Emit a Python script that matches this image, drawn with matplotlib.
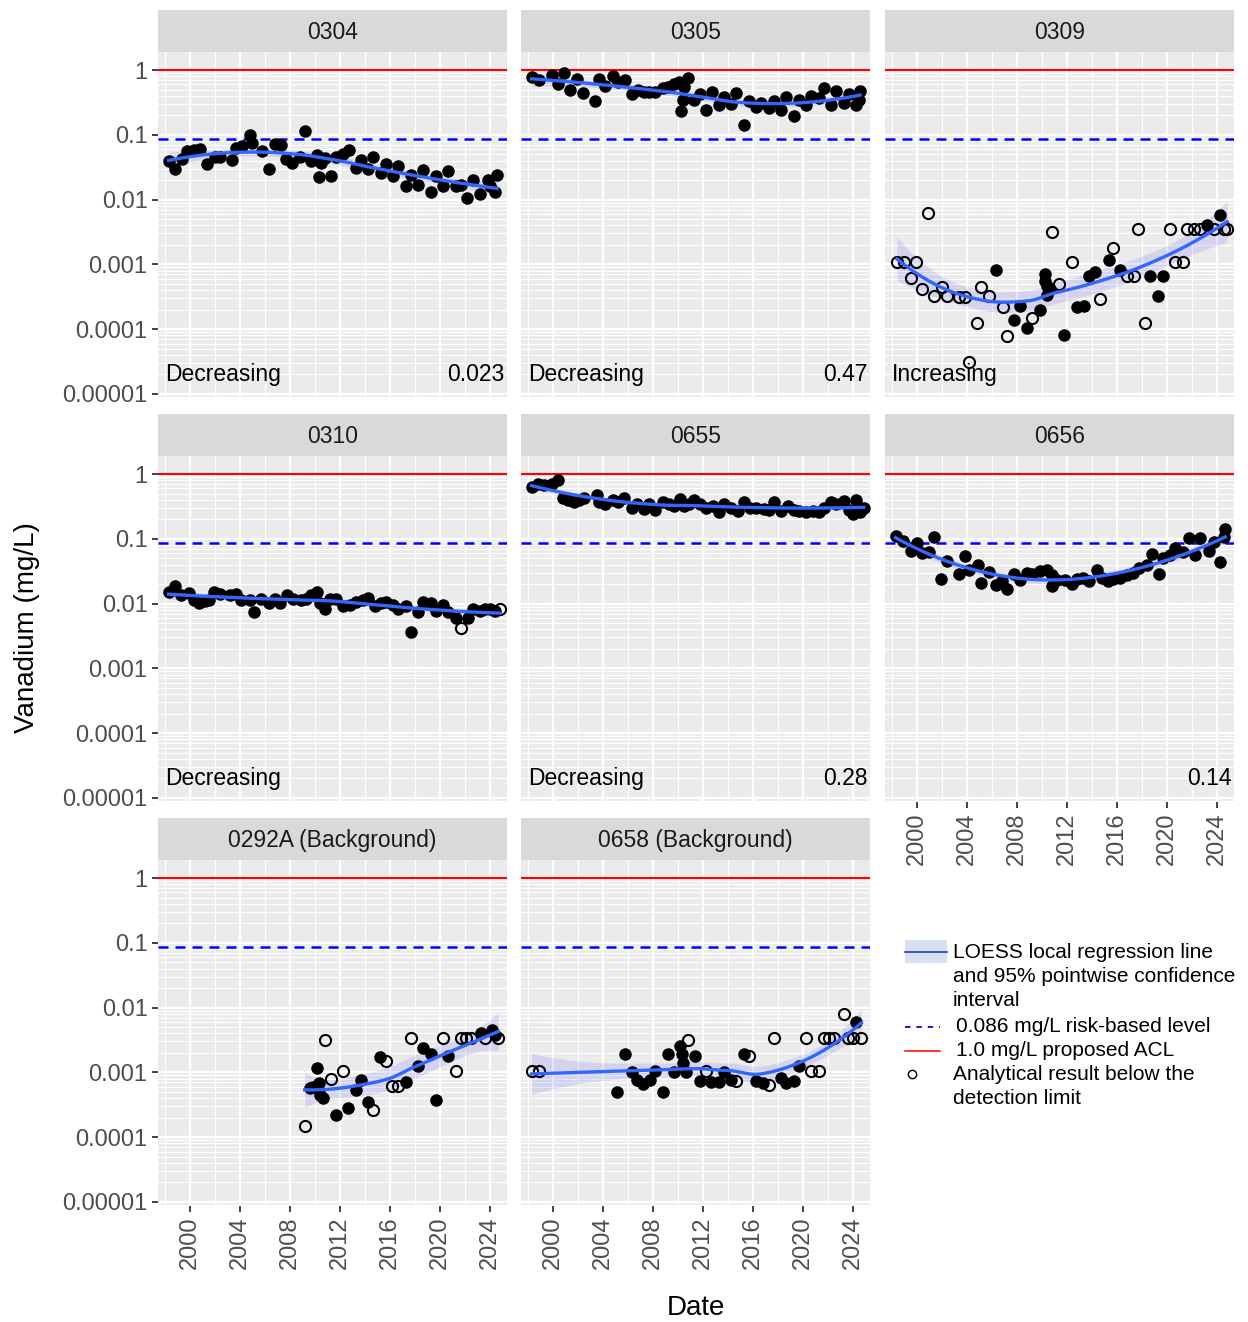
import numpy as np
import matplotlib
matplotlib.use('Agg')
import matplotlib.pyplot as plt
from matplotlib.ticker import LogLocator, MultipleLocator, FixedLocator, NullFormatter
from matplotlib.lines import Line2D
from matplotlib.patches import Rectangle

plt.rcParams['font.family'] = ['Liberation Sans', 'DejaVu Sans']

''' DATA (decimal year, mg/L) read off the figure
'''
yr_0304 = [1998.3, 1998.85, 1999.4, 1999.8, 2000.3, 2000.8, 2001.4, 2002.0, 2002.45, 2003.4,
           2003.7, 2004.2, 2004.8, 2005.0, 2005.8, 2006.3, 2006.8, 2007.3, 2007.7, 2008.2,
           2008.8, 2009.2, 2009.7, 2010.2, 2010.35, 2010.5, 2010.8, 2011.3, 2011.7, 2012.3,
           2012.75, 2013.3, 2013.7, 2014.3, 2014.7, 2015.3, 2015.7, 2016.3, 2016.7, 2017.3,
           2017.7, 2018.3, 2018.7, 2019.3, 2019.7, 2020.3, 2020.7, 2021.3, 2021.7, 2022.2,
           2022.7, 2023.25, 2023.9, 2024.05, 2024.45, 2024.6]
v_0304 = [0.039, 0.030, 0.042, 0.057, 0.059, 0.061, 0.035, 0.046, 0.045, 0.041,
          0.062, 0.068, 0.100, 0.075, 0.057, 0.030, 0.072, 0.070, 0.043, 0.037,
          0.045, 0.115, 0.039, 0.049, 0.022, 0.037, 0.044, 0.023, 0.046, 0.050,
          0.059, 0.031, 0.041, 0.030, 0.046, 0.026, 0.036, 0.023, 0.033, 0.016,
          0.024, 0.017, 0.029, 0.013, 0.023, 0.016, 0.028, 0.016, 0.017, 0.0104,
          0.020, 0.0123, 0.020, 0.016, 0.013, 0.024]

yr_0305 = [1998.3, 1998.9, 1999.9, 2000.4, 2000.9, 2001.4, 2001.9, 2002.45, 2003.4, 2003.7,
           2004.2, 2004.85, 2005.2, 2005.8, 2006.3, 2006.8, 2007.3, 2007.7, 2008.2, 2008.8,
           2009.2, 2009.7, 2010.1, 2010.3, 2010.4, 2010.5, 2010.8, 2011.3, 2011.8, 2012.3,
           2012.75, 2013.3, 2013.7, 2014.3, 2014.7, 2015.3, 2015.7, 2016.3, 2016.7, 2017.3,
           2017.7, 2018.3, 2018.7, 2019.3, 2019.7, 2020.3, 2020.7, 2021.3, 2021.7, 2022.3,
           2022.7, 2023.3, 2023.7, 2024.3, 2024.5, 2024.6]
v_0305 = [0.79, 0.71, 0.84, 0.61, 0.89, 0.50, 0.72, 0.44, 0.33, 0.72,
          0.57, 0.81, 0.66, 0.70, 0.42, 0.49, 0.45, 0.46, 0.45, 0.52,
          0.55, 0.61, 0.65, 0.23, 0.34, 0.55, 0.74, 0.35, 0.42, 0.24,
          0.45, 0.29, 0.39, 0.30, 0.44, 0.142, 0.33, 0.27, 0.31, 0.26,
          0.33, 0.24, 0.39, 0.195, 0.35, 0.29, 0.40, 0.37, 0.53, 0.29,
          0.48, 0.31, 0.42, 0.29, 0.35, 0.48]

yr_0309_det = [2006.3, 2007.8, 2008.3, 2008.8, 2009.85, 2010.25, 2010.3, 2010.4, 2010.7, 2010.4,
               2011.8, 2012.8, 2013.4, 2013.8, 2014.3, 2015.35, 2016.3, 2018.7, 2019.3, 2019.7,
               2023.25, 2024.3]
v_0309_det = [0.00083, 0.000139, 0.00023, 0.000106, 0.00020, 0.00072, 0.00055, 0.00046, 0.00041, 0.00034,
              0.000081, 0.00022, 0.00023, 0.00066, 0.00076, 0.00117, 0.00081, 0.00066, 0.00032, 0.00066,
              0.0041, 0.0057]
yr_0309_nd = [1998.4, 1999.0, 1999.9, 1999.5, 2000.45, 2000.9, 2001.4, 2002.0, 2002.4, 2003.4,
              2003.85, 2004.85, 2004.2, 2005.1, 2005.8, 2006.9, 2007.25, 2009.25, 2010.8, 2011.4,
              2012.4, 2014.7, 2015.7, 2016.8, 2017.4, 2017.7, 2018.3, 2020.3, 2020.7, 2021.35,
              2021.65, 2022.2, 2022.7, 2023.8, 2024.6, 2024.85]
v_0309_nd = [0.00107, 0.00107, 0.00107, 0.00062, 0.00042, 0.0062, 0.00032, 0.00044, 0.00032, 0.00031,
             0.00031, 0.000126, 0.000031, 0.00044, 0.00032, 0.00022, 0.000078, 0.00015, 0.0032, 0.00050,
             0.00107, 0.00029, 0.00177, 0.00066, 0.00066, 0.0035, 0.000126, 0.0035, 0.00107, 0.00107,
             0.0035, 0.0035, 0.0035, 0.0035, 0.0035, 0.0035]

yr_0310_det = [1998.3, 1998.85, 1999.3, 1999.9, 2000.3, 2000.7, 2001.2, 2001.5, 2001.9, 2002.4,
               2003.2, 2003.7, 2004.1, 2004.8, 2005.1, 2005.7, 2006.3, 2006.8, 2007.2, 2007.8,
               2008.3, 2008.9, 2009.3, 2009.7, 2010.2, 2010.4, 2010.8, 2011.2, 2011.7, 2012.3,
               2012.8, 2013.3, 2013.9, 2014.3, 2014.8, 2015.3, 2015.7, 2016.3, 2016.7, 2017.3,
               2017.7, 2018.3, 2018.7, 2019.3, 2019.7, 2020.3, 2020.7, 2021.3, 2022.3, 2022.7,
               2023.2, 2023.6, 2024.0, 2024.4]
v_0310_det = [0.015, 0.0185, 0.0135, 0.0145, 0.0115, 0.0103, 0.0109, 0.0115, 0.015, 0.014,
              0.0135, 0.014, 0.0115, 0.0115, 0.0074, 0.0118, 0.0103, 0.0118, 0.0103, 0.0134,
              0.0118, 0.0115, 0.0118, 0.0134, 0.0150, 0.0103, 0.0083, 0.0118, 0.0118, 0.0092,
              0.0095, 0.0105, 0.0114, 0.0121, 0.0092, 0.0102, 0.0106, 0.0095, 0.0083, 0.0092,
              0.0037, 0.0074, 0.0106, 0.0101, 0.0078, 0.0094, 0.0073, 0.0060, 0.0061, 0.0083,
              0.0078, 0.0083, 0.0083, 0.0078]
yr_0310_nd = [2021.7, 2024.8]
v_0310_nd = [0.0042, 0.0083]

yr_0655 = [1998.3, 1998.8, 1999.3, 1999.9, 2000.4, 2000.8, 2001.2, 2001.7, 2002.1, 2002.5,
           2003.5, 2003.7, 2004.2, 2004.8, 2005.2, 2005.7, 2006.3, 2006.7, 2007.3, 2007.7,
           2008.2, 2008.8, 2009.3, 2009.7, 2010.2, 2010.5, 2010.9, 2011.3, 2011.8, 2012.3,
           2012.8, 2013.3, 2013.7, 2014.3, 2014.8, 2015.3, 2015.8, 2016.3, 2016.9, 2017.3,
           2017.7, 2018.3, 2018.8, 2019.3, 2019.7, 2020.3, 2020.8, 2021.3, 2021.7, 2022.3,
           2022.7, 2023.3, 2023.7, 2024.3, 2024.0, 2024.6, 2024.9]
v_0655 = [0.62, 0.69, 0.68, 0.69, 0.81, 0.42, 0.40, 0.37, 0.40, 0.42,
          0.47, 0.37, 0.34, 0.40, 0.37, 0.42, 0.30, 0.34, 0.29, 0.34,
          0.28, 0.37, 0.34, 0.32, 0.41, 0.32, 0.34, 0.40, 0.34, 0.30,
          0.32, 0.26, 0.34, 0.30, 0.27, 0.37, 0.30, 0.30, 0.29, 0.28,
          0.37, 0.27, 0.32, 0.28, 0.27, 0.26, 0.27, 0.26, 0.30, 0.37,
          0.34, 0.38, 0.28, 0.40, 0.24, 0.26, 0.30]

yr_0656 = [1998.3, 1998.9, 1999.5, 2000.0, 2000.45, 2001.0, 2001.4, 2001.9, 2002.45, 2003.4,
           2003.85, 2004.2, 2004.9, 2005.1, 2005.8, 2006.3, 2006.85, 2007.25, 2007.8, 2008.3,
           2008.8, 2009.25, 2009.9, 2010.4, 2010.8, 2010.85, 2011.25, 2011.85, 2012.4, 2012.85,
           2013.3, 2013.8, 2014.4, 2014.85, 2015.3, 2015.7, 2016.3, 2016.8, 2017.35, 2017.8,
           2018.4, 2018.8, 2019.4, 2019.75, 2020.3, 2020.7, 2021.35, 2021.8, 2022.3, 2022.7,
           2023.4, 2023.8, 2024.3, 2024.6, 2024.7]
v_0656 = [0.112, 0.093, 0.064, 0.086, 0.060, 0.062, 0.105, 0.024, 0.046, 0.029,
          0.054, 0.033, 0.040, 0.021, 0.031, 0.0195, 0.022, 0.017, 0.029, 0.023,
          0.030, 0.029, 0.032, 0.033, 0.028, 0.019, 0.023, 0.023, 0.020, 0.024,
          0.025, 0.022, 0.033, 0.025, 0.022, 0.024, 0.025, 0.028, 0.030, 0.035,
          0.040, 0.059, 0.029, 0.050, 0.057, 0.072, 0.062, 0.102, 0.056, 0.104,
          0.064, 0.089, 0.044, 0.108, 0.142]

yr_0292A_det = [2009.6, 2009.9, 2010.2, 2010.35, 2010.4, 2010.67, 2011.7, 2012.7, 2013.3, 2013.7,
                2014.3, 2015.25, 2017.3, 2018.3, 2018.7, 2019.3, 2019.7, 2020.7, 2023.3, 2024.2,
                2024.4]
v_0292A_det = [0.00058, 0.00060, 0.00115, 0.00068, 0.00044, 0.00040, 0.00022, 0.00028, 0.00053, 0.00076,
               0.00035, 0.00173, 0.00071, 0.00126, 0.0024, 0.00194, 0.00037, 0.00178, 0.0041, 0.0045,
               0.0038]
yr_0292A_nd = [2009.2, 2010.8, 2011.3, 2012.3, 2014.7, 2015.7, 2016.2, 2016.7, 2017.7, 2020.3,
               2021.3, 2021.7, 2022.1, 2022.5, 2023.6, 2024.7]
v_0292A_nd = [0.000148, 0.0032, 0.00078, 0.00105, 0.00026, 0.00149, 0.00062, 0.00062, 0.0034, 0.0034,
              0.00105, 0.0034, 0.0034, 0.0034, 0.0034, 0.0034]

yr_0658_det = [2005.1, 2005.75, 2006.3, 2006.75, 2007.2, 2007.8, 2008.2, 2008.8, 2009.2, 2009.7,
               2010.2, 2010.35, 2010.4, 2010.7, 2011.4, 2011.8, 2012.7, 2013.3, 2013.7, 2014.3,
               2015.3, 2016.3, 2016.8, 2018.3, 2018.7, 2019.3, 2019.7, 2024.3]
v_0658_det = [0.00050, 0.0019, 0.00103, 0.00076, 0.00067, 0.00076, 0.00105, 0.00050, 0.0019, 0.00103,
              0.0026, 0.0019, 0.0014, 0.0010, 0.0018, 0.00074, 0.00070, 0.00071, 0.00103, 0.00076,
              0.0019, 0.00074, 0.00068, 0.00083, 0.00068, 0.00074, 0.00126, 0.0059]
yr_0658_nd = [1998.3, 1998.9, 2010.8, 2012.3, 2014.7, 2015.7, 2017.3, 2017.7, 2020.3, 2020.7,
              2021.3, 2021.7, 2022.1, 2022.5, 2023.3, 2023.6, 2024.0, 2024.7]
v_0658_nd = [0.00105, 0.00105, 0.0032, 0.00105, 0.00074, 0.0018, 0.00064, 0.0034, 0.0034, 0.00105,
             0.00105, 0.0034, 0.0034, 0.0034, 0.0081, 0.0034, 0.0034, 0.0034]

wells = ['0304', '0305', '0309', '0310', '0655', '0656', '0292A (Background)', '0658 (Background)']
det_x = [yr_0304, yr_0305, yr_0309_det, yr_0310_det, yr_0655, yr_0656, yr_0292A_det, yr_0658_det]
det_v = [v_0304, v_0305, v_0309_det, v_0310_det, v_0655, v_0656, v_0292A_det, v_0658_det]
nd_x = [[], [], yr_0309_nd, yr_0310_nd, [], [], yr_0292A_nd, yr_0658_nd]
nd_v = [[], [], v_0309_nd, v_0310_nd, [], [], v_0292A_nd, v_0658_nd]
trend = ['Decreasing', 'Decreasing', 'Increasing', 'Decreasing', 'Decreasing', '', '', '']
slope_txt = ['0.023', '0.47', '', '', '0.28', '0.14', '', '']

risk_level = 0.086
acl = 1.0
year_ticks = [2000, 2004, 2008, 2012, 2016, 2020, 2024]
ytick_vals = [1, 0.1, 0.01, 0.001, 0.0001, 0.00001]
ytick_lbl = ['1', '0.1', '0.01', '0.001', '0.0001', '0.00001']


def loess(x, y, xs, span=0.9, cell=0.2):
    '''local quadratic regression (tricube weights), kd-vertex + hermite
    interpolation like R loess(surface="interpolate"); returns fit and se'''
    x = np.asarray(x, float)
    y = np.asarray(y, float)
    n = len(x)
    q = int(np.floor(n * span))

    def lrows(x0):
        d = np.abs(x - x0)
        h = np.sort(d)[q - 1] * 1.0001
        w = np.clip(1 - (d / h) ** 3, 0, None) ** 3
        X = np.column_stack([np.ones(n), x - x0, (x - x0) ** 2])
        XtW = X.T * w
        A = np.linalg.pinv(XtW @ X)
        return A @ XtW          # rows: value, slope, curvature

    # vertices by recursive median split
    fc = int(np.floor(n * span * cell))
    lo, hi = x.min(), x.max()
    m = 0.005 * (hi - lo)
    verts = [lo - m, hi + m]

    def split(pts):
        if len(pts) <= fc:
            return
        s = np.sort(pts)
        k = len(s) // 2
        v = 0.5 * (s[k - 1] + s[k])
        if v <= s[0] or v >= s[-1]:
            return
        verts.append(v)
        split(s[s <= v])
        split(s[s > v])

    split(x)
    verts = np.sort(np.array(verts))
    vv = np.array([lrows(v)[0] @ y for v in verts])
    vd = np.array([lrows(v)[1] @ y for v in verts])

    fit = np.empty(len(xs))
    for j, x0 in enumerate(xs):
        k = min(max(np.searchsorted(verts, x0) - 1, 0), len(verts) - 2)
        x1, x2 = verts[k], verts[k + 1]
        hh = x2 - x1
        t = (x0 - x1) / hh
        h00 = 2 * t ** 3 - 3 * t ** 2 + 1
        h10 = t ** 3 - 2 * t ** 2 + t
        h01 = -2 * t ** 3 + 3 * t ** 2
        h11 = t ** 3 - t ** 2
        fit[j] = h00 * vv[k] + h10 * hh * vd[k] + h01 * vv[k + 1] + h11 * hh * vd[k + 1]

    L = np.array([lrows(x0)[0] for x0 in x])
    res = y - L @ y
    sig2 = np.sum(res ** 2) / max(n - np.trace(L), 1)
    rows = np.array([lrows(x0)[0] for x0 in xs])
    se = np.sqrt(sig2 * np.sum(rows ** 2, axis=1))
    return fit, se


''' FIGURE LAYOUT
'''
W, H = 1248, 1322
fig = plt.figure(figsize=(W / 100, H / 100), dpi=100)


def frac(x0, y0, w, h):
    return [x0 / W, 1 - (y0 + h) / H, w / W, h / H]


col_x = [158, 521, 885]
row_top = [10, 414, 818]
pw, strip_h, ph = 349, 42, 346
xlim = (1997.45, 2025.4)
ylim = (10 ** -5.062, 10 ** 0.278)
xlab_panels = [5, 6, 7]
tick_col = '#4D4D4D'

for i, name in enumerate(wells):
    r, c = divmod(i, 3)
    sax = fig.add_axes(frac(col_x[c], row_top[r], pw, strip_h))
    sax.set_facecolor('#D9D9D9')
    sax.set_xticks([])
    sax.set_yticks([])
    for s in sax.spines.values():
        s.set_visible(False)
    sax.text(0.5, 0.47, name, ha='center', va='center', fontsize=16.5, color='#1A1A1A',
             transform=sax.transAxes)

    ax = fig.add_axes(frac(col_x[c], row_top[r] + strip_h, pw, ph))
    ax.set_facecolor('#EBEBEB')
    ax.set_yscale('log')
    ax.set_xlim(xlim)
    ax.set_ylim(ylim)
    for s in ax.spines.values():
        s.set_visible(False)

    ax.xaxis.set_major_locator(FixedLocator(year_ticks))
    ax.xaxis.set_minor_locator(MultipleLocator(2))
    ax.yaxis.set_major_locator(FixedLocator(ytick_vals))
    ax.yaxis.set_minor_locator(LogLocator(base=10, subs=np.arange(2, 10), numticks=20))
    ax.yaxis.set_minor_formatter(NullFormatter())
    ax.grid(which='major', color='white', lw=1.6)
    ax.grid(which='minor', color='white', lw=0.8)
    ax.set_axisbelow(True)
    ax.tick_params(which='minor', length=0)
    ax.tick_params(which='major', color='#333333', length=4.5, width=1.3,
                   labelsize=17, labelcolor=tick_col, pad=3)

    if c == 0:
        ax.set_yticklabels(ytick_lbl)
    else:
        ax.tick_params(axis='y', which='major', length=0, labelleft=False)
    if i in xlab_panels:
        ax.set_xticklabels([str(t) for t in year_ticks], rotation=90)
    else:
        ax.tick_params(axis='x', which='major', length=0, labelbottom=False)

    # reference levels
    ax.axhline(acl, color='#FF0000', lw=1.5, zorder=2)
    ax.axhline(risk_level, color='#0000FF', lw=1.8, dashes=(4, 2.8), zorder=2)

    # loess on log scale, all results
    xa = np.array(det_x[i] + nd_x[i])
    ya = np.log10(np.array(det_v[i] + nd_v[i]))
    xs = np.linspace(xa.min(), xa.max(), 80)
    fit, se = loess(xa, ya, xs)
    ax.fill_between(xs, 10 ** (fit - 1.96 * se), 10 ** (fit + 1.96 * se),
                    color='#0000FF', alpha=0.1, lw=0, zorder=3)

    ax.plot(det_x[i], det_v[i], 'o', color='black', ms=8, zorder=4)
    if nd_x[i]:
        ax.plot(nd_x[i], nd_v[i], 'o', mfc='none', mec='black', mew=1.5, ms=8, zorder=4)
    ax.plot(xs, 10 ** fit, color='#3366FF', lw=2.4, zorder=5)

    if trend[i]:
        ax.text(0.02, 0.068, trend[i], transform=ax.transAxes, ha='left', va='center',
                fontsize=16.5, color='black', zorder=6)
    if slope_txt[i]:
        ax.text(0.993, 0.068, slope_txt[i], transform=ax.transAxes, ha='right', va='center',
                fontsize=16.5, color='black', zorder=6)

fig.text(27 / W, 1 - 628 / H, 'Vanadium (mg/L)', rotation=90, ha='center', va='center',
         fontsize=20, color='black')
fig.text(696 / W, 1 - 1308 / H, 'Date', ha='center', va='center', fontsize=20, color='black')

''' LEGEND (drawn in pixel coordinates)
'''
lax = fig.add_axes([0, 0, 1, 1], facecolor='none')
lax.set_xlim(0, W)
lax.set_ylim(H, 0)
lax.axis('off')
lax.add_patch(Rectangle((905, 940), 42, 23, facecolor='#D6E0F0', edgecolor='none'))
lax.add_line(Line2D([905, 947], [952, 952], color='#2B45C8', lw=1.3))
lax.text(953, 943, 'LOESS local regression line\nand 95% pointwise confidence\ninterval',
         ha='left', va='top', fontsize=15, linespacing=1.33, color='black')
lax.add_line(Line2D([905, 940], [1027, 1027], color='#0000FF', lw=1.3, dashes=(3, 3.3)))
lax.text(956, 1026, '0.086 mg/L risk-based level', ha='left', va='center', fontsize=15)
lax.add_line(Line2D([905, 940], [1051, 1051], color='#FF0000', lw=1.1))
lax.text(956, 1050, '1.0 mg/L proposed ACL', ha='left', va='center', fontsize=15)
lax.plot([912], [1074], 'o', mfc='none', mec='black', mew=1.0, ms=6)
lax.text(953, 1065, 'Analytical result below the\ndetection limit', ha='left', va='top',
         fontsize=15, linespacing=1.33)

fig.savefig('out.png', dpi=100)
